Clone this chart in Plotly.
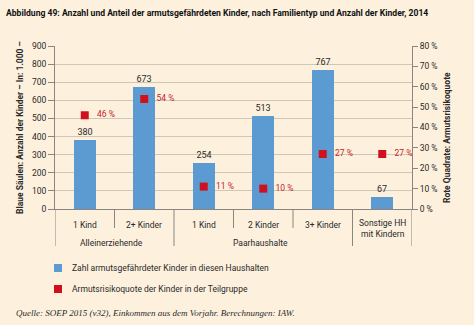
import plotly.graph_objects as go

# Data
categories = ["1 Kind", "2+ Kinder", "1 Kind", "2 Kinder", "3+ Kinder", "Sonstige HH<br>mit Kindern"]
groups = ["Alleinerziehende", "Paarhaushalte"]
group_spans = [(0, 2), (2, 5)]          # category index ranges per group
kinder_tsd = [380, 673, 254, 513, 767, 67]   # in 1.000
quote_pct = [46, 54, 11, 10, 27, 27]         # in %

left_ticks = list(range(0, 1000, 100))
right_ticks = list(range(0, 90, 10))

BG = "#fdf1de"
BLUE = "#5b9bd2"
RED = "#d0101c"
RED_TXT = "#c4242c"
GRID = "#cfc6b6"
AXIS = "#8a8580"
TXT = "#2a2a2a"
FONT = "Liberation Sans Narrow, Roboto, Arial Narrow, sans-serif"

# plot area geometry in pixels (for placing paper-referenced texts)
L, T, PW, PH = 55.0, 46.0, 357.0, 163.0


def px(xp):
    return (xp - L) / PW


def py(yp):
    return (T + PH - yp) / PH


xpos = [i + 0.5 for i in range(len(categories))]

fig = go.Figure()

fig.add_trace(go.Bar(
    x=xpos, y=kinder_tsd, width=0.37,
    marker=dict(color=BLUE, line=dict(width=0)),
    text=[str(v) for v in kinder_tsd], textposition="outside",
    textfont=dict(size=9, color=TXT, family=FONT),
    cliponaxis=False, showlegend=False, hoverinfo="skip",
))

fig.add_trace(go.Scatter(
    x=xpos, y=quote_pct, yaxis="y2", mode="markers+text",
    marker=dict(symbol="square", size=8, color=RED),
    text=["   %d %%" % v for v in quote_pct], textposition="middle right",
    textfont=dict(size=8.5, color=RED_TXT, family=FONT),
    cliponaxis=False, showlegend=False, hoverinfo="skip",
))

shapes = []
# category dividers below the axis: long at group edges, short inside groups
long_edges = {0, 2, 5, 6}
for i in range(len(categories) + 1):
    y1 = py(246) if i in long_edges else py(228)
    shapes.append(dict(type="line", xref="x", yref="paper", x0=i, x1=i, y0=0, y1=y1,
                       line=dict(color=AXIS, width=1)))

annotations = []
for i, c in enumerate(categories):
    annotations.append(dict(x=i + 0.5, y=py(225) if "<br>" not in c else py(228), xref="x", yref="paper",
                            text=c, showarrow=False, yanchor="middle",
                            font=dict(size=8.5, color=TXT, family=FONT)))
for g, (a, b) in zip(groups, group_spans):
    annotations.append(dict(x=(a + b) / 2 - 0.05, y=py(243), xref="x", yref="paper",
                            text=g, showarrow=False, yanchor="middle",
                            font=dict(size=8.5, color=TXT, family=FONT)))

# axis titles
annotations.append(dict(x=px(20), y=py(128), xref="paper", yref="paper", textangle=-90,
                        text="<b>Blaue Säulen: Anzahl der Kinder – In: 1.000 –</b>",
                        showarrow=False, xanchor="center", yanchor="middle",
                        font=dict(size=8.5, color=TXT, family=FONT)))
annotations.append(dict(x=px(447), y=py(138), xref="paper", yref="paper", textangle=-90,
                        text="<b>Rote Quadrate: Armutsrisikoquote</b>",
                        showarrow=False, xanchor="center", yanchor="middle",
                        font=dict(size=8.5, color=TXT, family=FONT)))

# title
annotations.append(dict(x=px(4), y=py(13), xref="paper", yref="paper",
                        text="<b>Abbildung 49: Anzahl und Anteil der armutsgefährdeten Kinder, nach Familientyp und Anzahl der Kinder, 2014</b>",
                        showarrow=False, xanchor="left", yanchor="middle",
                        font=dict(size=8.6, color="#111111", family=FONT)))

# legend (drawn by hand)
legend_items = [("Zahl armutsgefährdeter Kinder in diesen Haushalten", BLUE, 268),
                ("Armutsrisikoquote der Kinder in der Teilgruppe", RED, 289)]
for label, col, ypx in legend_items:
    shapes.append(dict(type="rect", xref="paper", yref="paper", x0=px(54), x1=px(62),
                       y0=py(ypx + 4), y1=py(ypx - 4), fillcolor=col, line=dict(width=0)))
    annotations.append(dict(x=px(70), y=py(ypx), xref="paper", yref="paper", text=label,
                            showarrow=False, xanchor="left", yanchor="middle",
                            font=dict(size=8.5, color=TXT, family=FONT)))

# source line
annotations.append(dict(x=px(14), y=py(313), xref="paper", yref="paper",
                        text="<i>Quelle: SOEP 2015 (v32), Einkommen aus dem Vorjahr. Berechnungen: IAW.</i>",
                        showarrow=False, xanchor="left", yanchor="middle",
                        font=dict(size=9, color=TXT, family="Liberation Serif, DejaVu Serif, serif")))

fig.update_layout(
    width=474, height=325,
    margin=dict(l=55, r=62, t=46, b=116),
    paper_bgcolor=BG, plot_bgcolor=BG,
    bargap=0,
    xaxis=dict(range=[0, len(categories)], showticklabels=False, showgrid=False,
               zeroline=False, showline=True, linecolor=AXIS, linewidth=1, ticks=""),
    yaxis=dict(range=[0, 900], tickvals=left_ticks, showgrid=True, gridcolor=GRID, gridwidth=1,
               zeroline=False, showline=True, linecolor=AXIS, linewidth=1,
               ticks="outside", ticklen=6, tickcolor=AXIS,
               tickfont=dict(size=8.5, color=TXT, family=FONT)),
    yaxis2=dict(range=[0, 80], tickvals=right_ticks, ticktext=["%d %%" % v for v in right_ticks],
                overlaying="y", side="right", showgrid=False, zeroline=False,
                showline=True, linecolor=AXIS, linewidth=1,
                ticks="outside", ticklen=5, tickcolor=AXIS,
                tickfont=dict(size=8.5, color=TXT, family=FONT)),
    shapes=shapes, annotations=annotations,
    font=dict(family=FONT, color=TXT),
)

fig.write_html("out.html")
